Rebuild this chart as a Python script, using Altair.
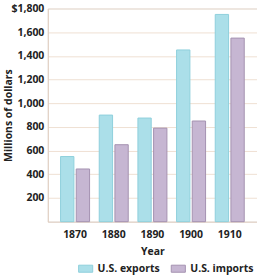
import altair as alt
import pandas as pd

years = ["1870", "1880", "1890", "1900", "1910"]
exports = [550, 900, 875, 1450, 1750]
imports = [445, 650, 790, 850, 1550]
series_names = ["U.S. exports", "U.S. imports"]
fill_colors = ["#abdfe9", "#c6b6d2"]
stroke_colors = ["#8fd0dc", "#a593b1"]
y_ticks = [200, 400, 600, 800, 1000, 1200, 1400, 1600, 1800]

rows = []
for i, y in enumerate(years):
    rows.append({"year": y, "series": series_names[0], "value": exports[i]})
    rows.append({"year": y, "series": series_names[1], "value": imports[i]})
df = pd.DataFrame(rows)

FONT = "Open Sans"

chart = alt.Chart(df).mark_bar(strokeWidth=1).encode(
    x=alt.X("year:N", sort=years,
            scale=alt.Scale(paddingInner=0.25, paddingOuter=0.33),
            axis=alt.Axis(title="Year", labelAngle=0, ticks=False, domainColor="#e2cfc0",
                          labelPadding=8, titlePadding=6, labelFontSize=10.5, titleFontSize=10.5,
                          labelFontWeight="bold", titleFontWeight="bold", labelColor="#222",
                          titleColor="#222", labelFont=FONT, titleFont=FONT)),
    xOffset=alt.XOffset("series:N", sort=series_names, scale=alt.Scale(paddingInner=0.15)),
    y=alt.Y("value:Q", scale=alt.Scale(domain=[0, 1800], nice=False),
            axis=alt.Axis(title="Millions of dollars", values=y_ticks, ticks=False,
                          labelExpr="datum.value == 1800 ? '$1,800' : format(datum.value, ',')",
                          gridColor="#efe0d3", domainColor="#e2cfc0", labelPadding=4,
                          labelFontSize=10.5, titleFontSize=10.5, labelFontWeight="bold",
                          titleFontWeight="bold", labelColor="#222", titleColor="#222",
                          labelFont=FONT, titleFont=FONT, titleX=-34)),
    fill=alt.Fill("series:N", sort=series_names,
                  scale=alt.Scale(domain=series_names, range=fill_colors),
                  legend=alt.Legend(title=None, orient="none", direction="horizontal",
                                    legendX=30, legendY=253,
                                    symbolType="M-1,-0.5H1V0.5H-1Z", symbolSize=200,
                                    labelFont=FONT, labelFontSize=10.5, labelFontWeight="bold",
                                    labelColor="#222", columnPadding=8, symbolStrokeWidth=1)),
    stroke=alt.Stroke("series:N", sort=series_names,
                      scale=alt.Scale(domain=series_names, range=stroke_colors)),
).properties(
    width=210, height=214,
    autosize=alt.AutoSizeParams(type="none"),
    padding={"left": 48, "top": 8, "right": 0, "bottom": 53},
).configure_view(stroke=None).configure(background="white")

chart.save("out.html", embed_options={"renderer": "svg", "actions": False})
